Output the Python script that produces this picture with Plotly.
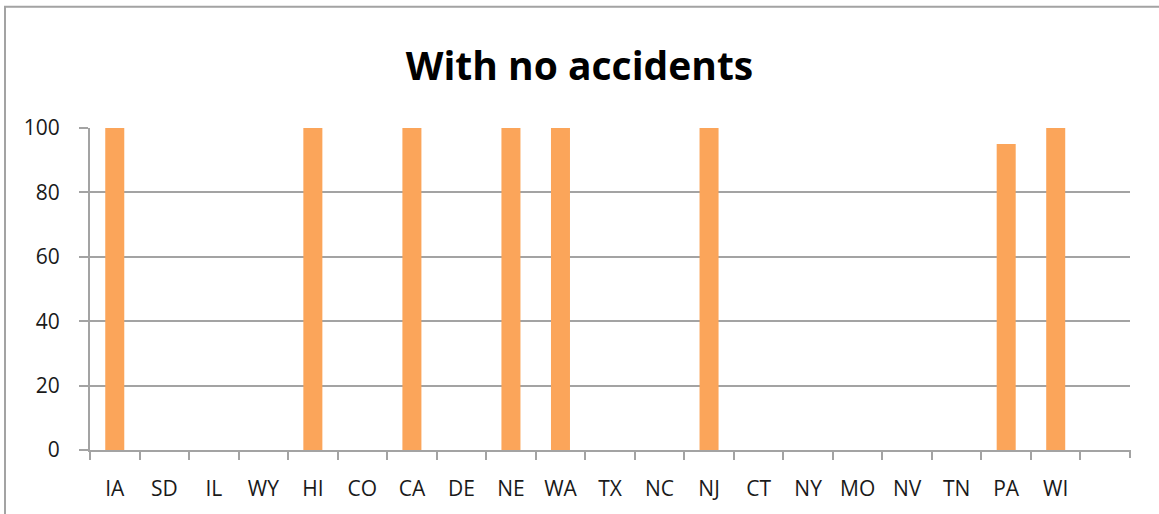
import plotly.graph_objects as go

categories = ["IA", "SD", "IL", "WY", "HI", "CO", "CA", "DE", "NE", "WA",
              "TX", "NC", "NJ", "CT", "NY", "MO", "NV", "TN", "PA", "WI"]
values = [100, 0, 0, 0, 100, 0, 100, 0, 100, 100,
          0, 0, 100, 0, 0, 0, 0, 0, 95, 100]
y_ticks = [0, 20, 40, 60, 80, 100]

W, H = 1159, 514
L, R, T, B = 90, 29, 128, 62
pw, ph = W - L - R, H - T - B

GRID = "#a3a3a3"
FONT = "'Open Sans', sans-serif"

fig = go.Figure(go.Bar(
    x=categories, y=values,
    marker=dict(color="#FBA55A", line=dict(width=0)),
))

fig.update_layout(
    width=W, height=H,
    margin=dict(l=L, r=R, t=T, b=B),
    paper_bgcolor="white", plot_bgcolor="white",
    bargap=0.616,
    showlegend=False,
    title=dict(text="<b>With no accidents</b>", x=0.5, xanchor="center",
               y=1 - 66 / H, yanchor="middle",
               font=dict(family=FONT, size=39, color="#000000")),
    font=dict(family=FONT, size=21, color="#1a1a1a"),
)

fig.update_xaxes(
    type="category", showgrid=False,
    range=[-0.5, len(categories) + 0.5],
    showline=True, linecolor=GRID, linewidth=2,
    ticks="outside", tickson="boundaries", ticklen=8, tickwidth=2, tickcolor=GRID,
    ticklabelstandoff=19,
    tickfont=dict(size=21, color="#1a1a1a"),
)
fig.update_yaxes(
    range=[0, 100], tickvals=y_ticks,
    showgrid=True, gridcolor=GRID, gridwidth=2,
    showline=True, linecolor=GRID, linewidth=2,
    ticks="outside", ticklen=9, tickwidth=2, tickcolor=GRID,
    ticklabelstandoff=15, zeroline=False,
    tickfont=dict(size=21, color="#1a1a1a"),
)

# closing tick at the right end of the category axis
fig.add_shape(type="line", xref="paper", yref="paper",
              x0=1, x1=1, y0=0, y1=-8 / ph,
              line=dict(color=GRID, width=2))

# outer chart border (left and top edges visible)
fig.add_shape(type="rect", xref="paper", yref="paper",
              x0=(5 - L) / pw, x1=(W + 40 - L) / pw,
              y0=-(H + 40 - (T + ph)) / ph, y1=(T + ph - 6) / ph,
              line=dict(color=GRID, width=2), layer="below")

fig.write_html(
    "out.html",
    config={"displayModeBar": False},
    post_script="document.body.style.margin='0';document.body.style.overflow='hidden';",
)
